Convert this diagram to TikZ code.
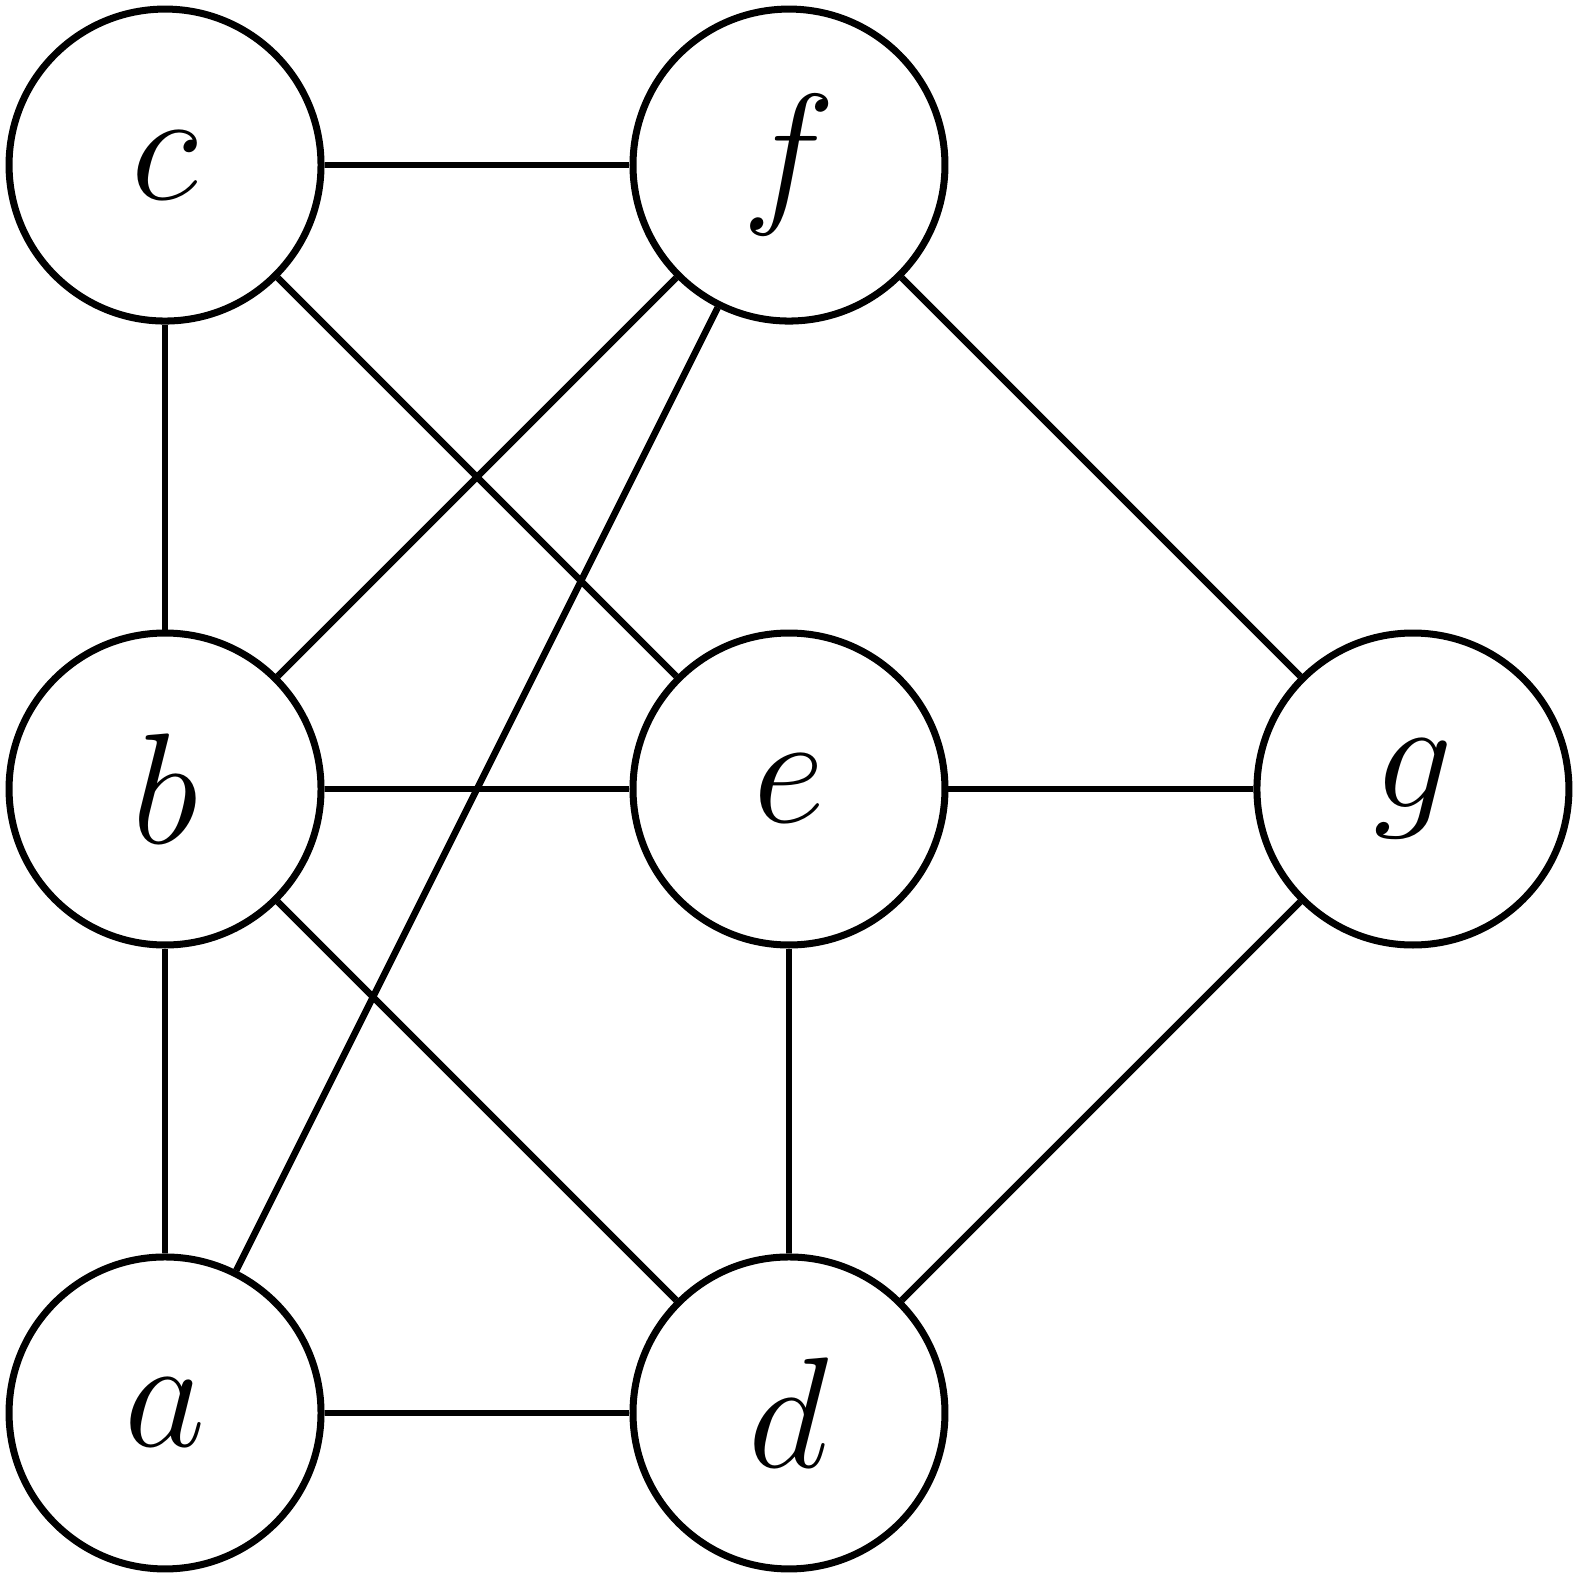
\documentclass[tikz,border=0pt]{standalone}
\begin{document}
\begin{tikzpicture}[
  vtx/.style={circle, draw, line width=0.64pt, minimum size=1cm, inner sep=0pt, font=\fontsize{15.3}{18}\selectfont},
  edg/.style={line width=0.6pt}
]
\useasboundingbox (0,0) rectangle (5.058,5.058);
\node[vtx] (a) at (0.529,0.529) {$a$};
\node[vtx] (b) at (0.529,2.529) {$b$};
\node[vtx] (c) at (0.529,4.529) {$c$};
\node[vtx] (d) at (2.529,0.529) {$d$};
\node[vtx] (e) at (2.529,2.529) {$e$};
\node[vtx] (f) at (2.529,4.529) {$f$};
\node[vtx] (g) at (4.529,2.529) {$g$};
\draw[edg] (c) -- (f);
\draw[edg] (c) -- (b);
\draw[edg] (c) -- (e);
\draw[edg] (f) -- (b);
\draw[edg] (f) -- (a);
\draw[edg] (f) -- (g);
\draw[edg] (b) -- (e);
\draw[edg] (b) -- (a);
\draw[edg] (b) -- (d);
\draw[edg] (e) -- (g);
\draw[edg] (e) -- (d);
\draw[edg] (g) -- (d);
\draw[edg] (a) -- (d);
\end{tikzpicture}
\end{document}
